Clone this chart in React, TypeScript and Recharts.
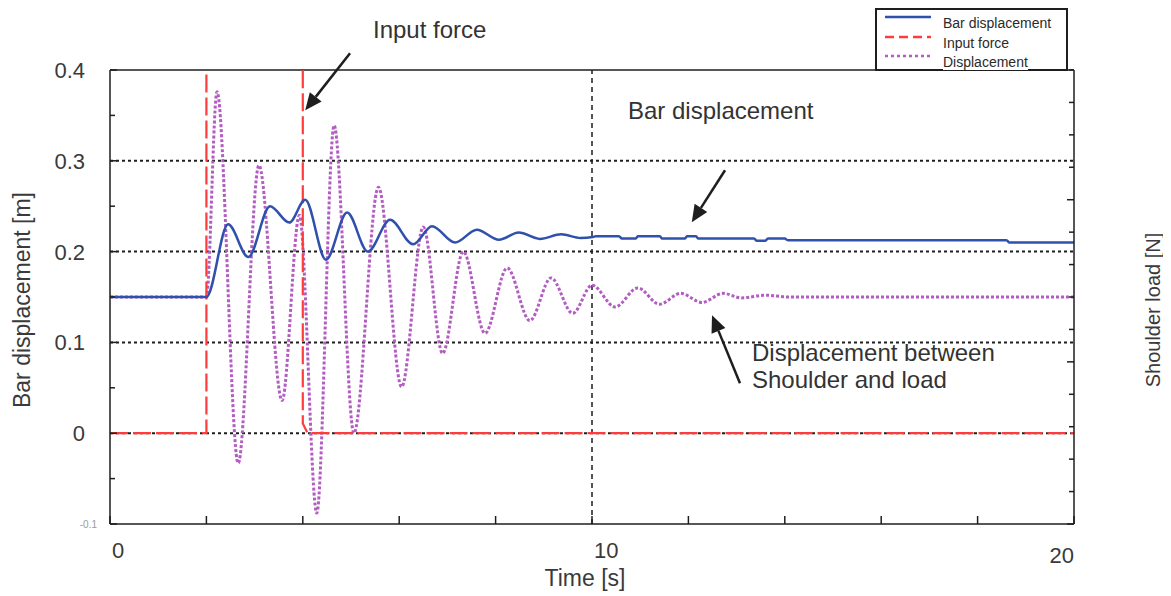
import React from "react";
import { LineChart, Line, XAxis, YAxis, ReferenceLine, Legend } from "recharts";

// ── Theme ─────────────────────────────────────────────────────────────────────
const BLUE   = "#2f50ad";
const RED    = "#ff3c3c";
const PURPLE = "#b35cc1";
const INK    = "#1e1e1e";
const TEXT   = "#3a3a3a";
const FONT   = "'Liberation Sans', Arial, sans-serif";

// ── Data (time in s) ──────────────────────────────────────────────────────────
const barT = [0, 2.0, 2.45, 2.87, 3.32, 3.72, 4.05, 4.48, 4.92, 5.35, 5.81, 6.29, 6.68, 7.16, 7.61, 8.07, 8.48, 8.92, 9.36, 9.76, 10.02, 10.08, 10.56, 10.62, 10.91, 10.95, 11.41, 11.45, 11.93, 11.97, 12.16, 12.2, 13.36, 13.42, 13.6, 13.65, 14.0, 14.06, 18.6, 18.66, 20];
const barY = [0.15, 0.15, 0.230, 0.194, 0.250, 0.232, 0.257, 0.191, 0.243, 0.200, 0.235, 0.208, 0.228, 0.210, 0.224, 0.213, 0.221, 0.214, 0.219, 0.215, 0.216, 0.217, 0.217, 0.2144, 0.2144, 0.217, 0.217, 0.2144, 0.2144, 0.217, 0.217, 0.2144, 0.2144, 0.212, 0.212, 0.2144, 0.2144, 0.2126, 0.2126, 0.210, 0.210];

const dispT = [0, 2.0, 2.22, 2.66, 3.09, 3.57, 3.93, 4.29, 4.65, 5.06, 5.57, 6.05, 6.5, 6.9, 7.33, 7.78, 8.24, 8.71, 9.15, 9.6, 10.0, 10.48, 10.95, 11.4, 11.84, 12.28, 12.72, 13.1, 13.6, 14.08, 20];
const dispY = [0.15, 0.15, 0.376, -0.033, 0.295, 0.036, 0.240, -0.088, 0.339, 0.0, 0.271, 0.051, 0.227, 0.088, 0.200, 0.110, 0.182, 0.124, 0.171, 0.132, 0.163, 0.139, 0.160, 0.142, 0.154, 0.144, 0.154, 0.149, 0.152, 0.150, 0.150];

const forceT = [0, 2, 2, 4, 4, 4.1, 20];
const forceN = [0, 0, 20, 20, 0.3, 0, 0];

// ── Axes ──────────────────────────────────────────────────────────────────────
const xTicks     = [0, 2, 4, 6, 8, 10, 12, 14, 16, 18, 20];
const xLabelAt   = [0, 10, 20];
const xLabels    = ["0", "10", "20"];
const yTicks     = [-0.1, -0.05, 0, 0.05, 0.1, 0.15, 0.2, 0.25, 0.3, 0.35, 0.4];
const yLabelAt   = [-0.1, 0, 0.1, 0.2, 0.3, 0.4];
const yLabels    = ["-0.1", "0", "0.1", "0.2", "0.3", "0.4"];
const yGrid      = [0, 0.1, 0.2, 0.3];
const rightTicks = Array.from({ length: 15 }, (_, k) => -2.8 + k);

const legendItems = [
  { name: "Bar displacement", color: BLUE,   dash: undefined },
  { name: "Input force",      color: RED,    dash: "9 5" },
  { name: "Displacement",     color: PURPLE, dash: "3 3" },
];

// annotation arrows: tail -> tip, in data units
const arrows = [
  { from: { x: 4.98,  y: 0.4185 }, to: { x: 4.05,  y: 0.3557 } },
  { from: { x: 12.76, y: 0.2896 }, to: { x: 12.07, y: 0.2324 } },
  { from: { x: 13.07, y: 0.055 },  to: { x: 12.49, y: 0.130 } },
];

const barData   = barT.map((t, i) => ({ t, v: barY[i] }));
const dispData  = dispT.map((t, i) => ({ t, v: dispY[i] }));
const forceData = forceT.map((t, i) => ({ t, v: forceN[i] }));

const near = (a: number, b: number) => Math.abs(a - b) < 1e-6;

// ── Custom ticks ──────────────────────────────────────────────────────────────
function LeftTick({ x, y, payload }: any) {
  const v = payload.value;
  const idx = yLabelAt.findIndex((a) => near(a, v));
  const axisX = x + 25;
  const small = v < -0.05;
  return (
    <g>
      <line x1={axisX} x2={axisX + (idx >= 0 ? 7 : 5)} y1={y} y2={y} stroke={INK} strokeWidth={1.5} />
      {idx >= 0 && (
        <text
          x={small ? x + 12 : x}
          y={y}
          dy="0.36em"
          textAnchor="end"
          fontSize={small ? 10 : 22}
          fill={small ? "#9a9a9a" : TEXT}
          fontFamily={FONT}
        >
          {yLabels[idx]}
        </text>
      )}
    </g>
  );
}

function BottomTick({ x, y, payload }: any) {
  const v = payload.value;
  const idx = xLabelAt.findIndex((a) => near(a, v));
  const last = idx === xLabels.length - 1;
  return (
    <g>
      <line x1={x} x2={x} y1={y} y2={y - 8} stroke={INK} strokeWidth={1.5} />
      {idx >= 0 && (
        <text
          x={last ? x : x + 2}
          y={y + (last ? 31 : 26)}
          dy="0.36em"
          textAnchor={last ? "end" : "start"}
          fontSize={22}
          fill={TEXT}
          fontFamily={FONT}
        >
          {xLabels[idx]}
        </text>
      )}
    </g>
  );
}

function RightTick({ x, y, index }: any) {
  const len = index % 5 === 0 ? 7 : 5;
  return <line x1={x - len} x2={x} y1={y} y2={y} stroke={INK} strokeWidth={1.5} />;
}

function arrowShape(p: any) {
  const { x1, y1, x2, y2 } = p;
  const a = Math.atan2(y2 - y1, x2 - x1);
  const L = 17, Wd = 7.5;
  const bx = x2 - L * Math.cos(a);
  const by = y2 - L * Math.sin(a);
  const pts = `${x2},${y2} ${bx - Wd * Math.sin(a)},${by + Wd * Math.cos(a)} ${bx + Wd * Math.sin(a)},${by - Wd * Math.cos(a)}`;
  return (
    <g>
      <line x1={x1} y1={y1} x2={bx} y2={by} stroke={INK} strokeWidth={2.5} />
      <polygon points={pts} fill={INK} />
    </g>
  );
}

function LegendBox() {
  return (
    <div style={{
      position:   "relative",
      width:      193,
      height:     63,
      boxSizing:  "border-box",
      border:     `2px solid ${INK}`,
      background: "#fff",
      overflow:   "visible",
    }}>
      {legendItems.map((it, i) => (
        <div key={it.name} style={{ position: "absolute", left: 6, top: [-1, 19, 38][i], height: 20, display: "flex", alignItems: "flex-start" }}>
          <svg width={50} height={12} style={{ marginTop: 2 }}>
            <line x1={2} x2={48} y1={6} y2={6} stroke={it.color} strokeWidth={2.5} strokeDasharray={it.dash} />
          </svg>
          <span style={{ marginLeft: 10, marginTop: 6, fontSize: 14, lineHeight: "16px", color: "#2a2a2a", fontFamily: FONT, whiteSpace: "nowrap", background: "#fff" }}>
            {it.name}
          </span>
        </div>
      ))}
    </div>
  );
}

const noteStyle: React.CSSProperties = {
  position:   "absolute",
  fontSize:   24,
  lineHeight: "27px",
  color:      "#333",
  fontFamily: FONT,
  whiteSpace: "nowrap",
};

export default function App() {
  return (
    <div style={{ position: "relative", width: 1163, height: 588 }}>
      <LineChart
        width={1163}
        height={588}
        margin={{ top: 62, right: 0, bottom: 0, left: 0 }}
        style={{ fontFamily: FONT }}
      >
        <XAxis
          dataKey="t"
          type="number"
          domain={[0, 20]}
          ticks={xTicks}
          interval={0}
          height={72}
          tickSize={0}
          tickMargin={0}
          tick={<BottomTick />}
          axisLine={{ stroke: INK, strokeWidth: 1.5 }}
          tickLine={false}
          label={(props: any) => {
            const vb = props.viewBox;
            return (
              <text x={vb.x + vb.width / 2 - 7} y={570} dy="0.36em" textAnchor="middle" fontSize={23} fill={TEXT} fontFamily={FONT}>
                Time [s]
              </text>
            );
          }}
        />
        <YAxis
          yAxisId="left"
          type="number"
          domain={[-0.1, 0.4]}
          ticks={yTicks}
          interval={0}
          width={102}
          tickSize={0}
          tickMargin={25}
          tick={<LeftTick />}
          tickLine={false}
          allowDataOverflow
          axisLine={{ stroke: INK, strokeWidth: 1.5 }}
          label={(props: any) => {
            const vb = props.viewBox;
            const cy = vb.y + vb.height / 2 + 3;
            return (
              <text x={14} y={cy} dy="0.36em" textAnchor="middle" transform={`rotate(-90 14 ${cy})`} fontSize={23} fill={TEXT} fontFamily={FONT}>
                Bar displacement [m]
              </text>
            );
          }}
        />
        <YAxis
          yAxisId="right"
          orientation="right"
          type="number"
          domain={[-2.8, 11.2]}
          ticks={rightTicks}
          interval={0}
          width={97}
          tickSize={0}
          tickMargin={0}
          tick={<RightTick />}
          tickLine={false}
          allowDataOverflow
          axisLine={{ stroke: INK, strokeWidth: 1.5 }}
          label={(props: any) => {
            const vb = props.viewBox;
            const cy = vb.y + vb.height / 2 + 13;
            return (
              <text x={1145} y={cy} dy="0.36em" textAnchor="middle" transform={`rotate(-90 1145 ${cy})`} fontSize={20} fill={TEXT} fontFamily={FONT}>
                Shoulder load [N]
              </text>
            );
          }}
        />

        {yGrid.map((g) => (
          <ReferenceLine key={g} yAxisId="left" y={g} stroke={INK} strokeWidth={2} strokeDasharray="3 3" />
        ))}
        <ReferenceLine yAxisId="left" x={10} stroke={INK} strokeWidth={1.5} strokeDasharray="5 4" />
        <ReferenceLine yAxisId="left" y={0.4} stroke={INK} strokeWidth={1.5} />

        <Line
          data={dispData}
          yAxisId="left"
          dataKey="v"
          type="monotone"
          stroke={PURPLE}
          strokeWidth={3}
          strokeDasharray="3 2"
          dot={false}
          activeDot={false}
          isAnimationActive={false}
        />
        <Line
          data={forceData}
          yAxisId="right"
          dataKey="v"
          type="linear"
          stroke={RED}
          strokeWidth={2.2}
          strokeDasharray="18 5"
          dot={false}
          activeDot={false}
          isAnimationActive={false}
        />
        <Line
          data={barData}
          yAxisId="left"
          dataKey="v"
          type="monotone"
          stroke={BLUE}
          strokeWidth={2.5}
          dot={false}
          activeDot={false}
          isAnimationActive={false}
        />

        {arrows.map((a, i) => (
          <ReferenceLine
            key={i}
            yAxisId="left"
            segment={[a.from, a.to]}
            ifOverflow="visible"
            shape={arrowShape}
          />
        ))}

        <Legend
          layout="vertical"
          align="center"
          verticalAlign="middle"
          wrapperStyle={{ left: 867, top: 0, width: 193, height: 63 }}
          content={() => <LegendBox />}
        />
      </LineChart>

      <div style={{ ...noteStyle, left: 365, top: 8 }}>Input force</div>
      <div style={{ ...noteStyle, left: 620, top: 89 }}>Bar displacement</div>
      <div style={{ ...noteStyle, left: 744, top: 331 }}>
        Displacement between<br />Shoulder and load
      </div>
    </div>
  );
}
